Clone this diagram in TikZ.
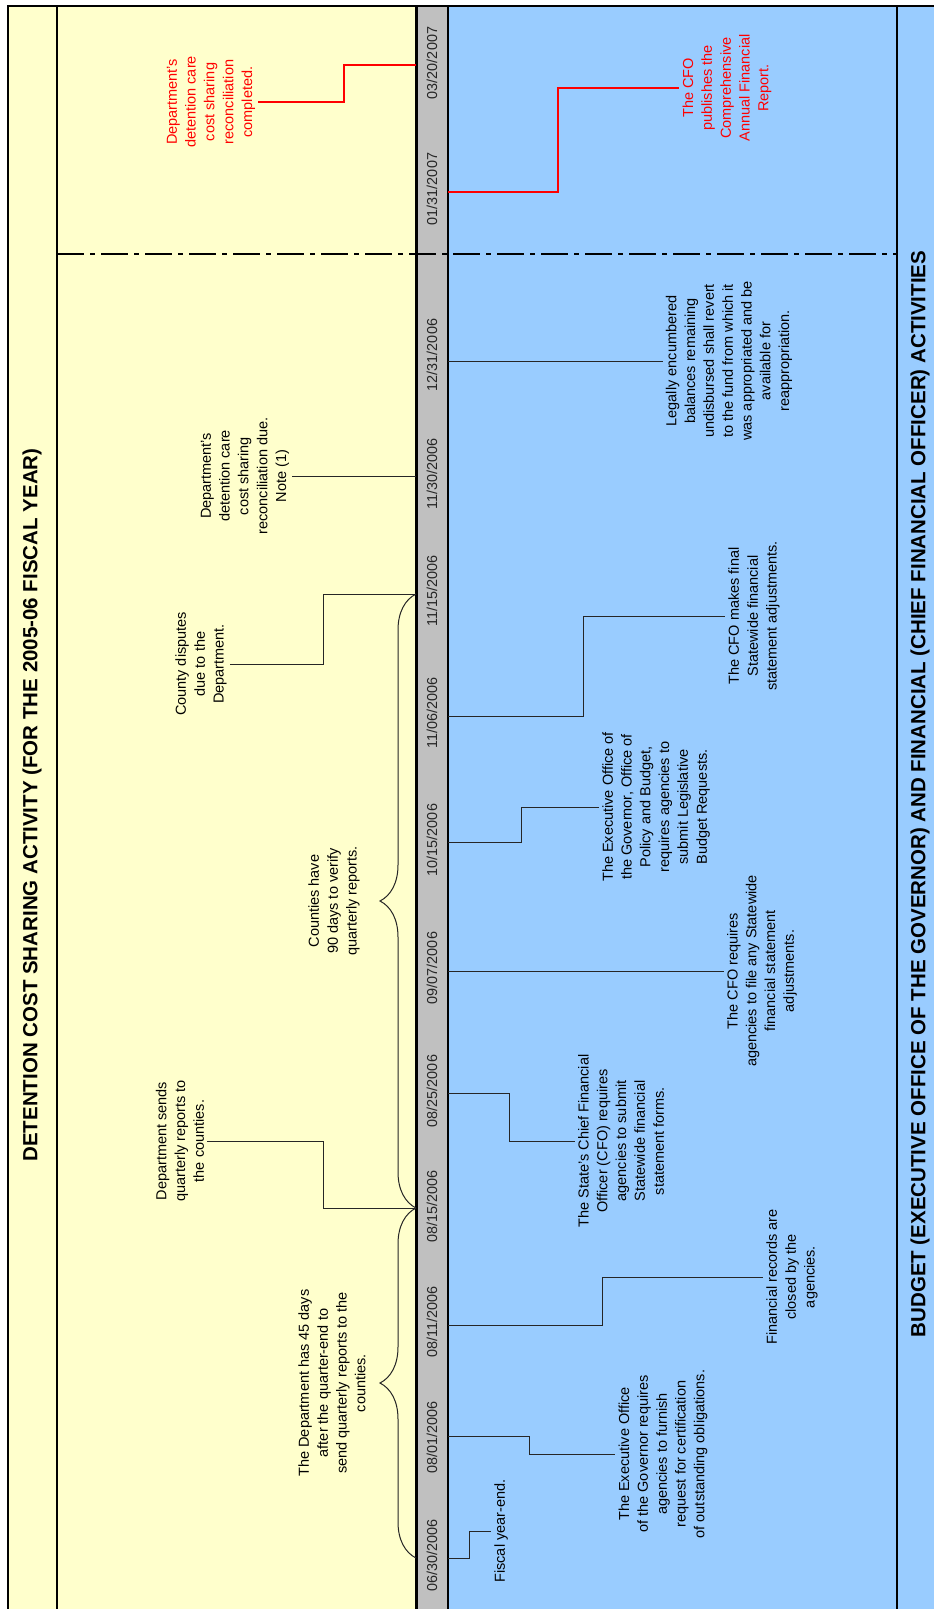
\documentclass[tikz,border=0pt]{standalone}
\usepackage{fontspec}
\setmainfont{Liberation Sans}
\usetikzlibrary{decorations.pathreplacing}
\definecolor{ylw}{HTML}{FFFFCC}
\definecolor{blu}{HTML}{99CCFF}
\definecolor{gry}{HTML}{C0C0C0}
\definecolor{rd}{HTML}{FF0000}
\begin{document}
\begin{tikzpicture}[x=1pt,y=-1pt,
  evt/.style={rotate=90, align=center, font=\fontsize{14.5}{18.8}\selectfont, inner sep=3pt},
  datelbl/.style={rotate=90, font=\fontsize{14.4}{17}\selectfont, text=black!85, inner sep=0pt},
  ttl/.style={rotate=90, font=\bfseries\fontsize{20.5}{24}\selectfont, inner sep=0pt},
  conn/.style={line width=1pt, draw=black!85},
  rconn/.style={line width=1.2pt, draw=rd},
  frame/.style={line width=2.5pt, draw=black},
  bracestyle/.style={line width=1pt, draw=black!85, decorate, decoration={brace, amplitude=36pt}}]
\useasboundingbox (0,0) rectangle (934,1609);
\fill[white] (0,0) rectangle (934,1609);
\fill[ylw] (8,6) rectangle (416,1609);
\fill[gry] (416,6) rectangle (448,1609);
\fill[blu] (448,6) rectangle (934,1609);
% dash-dot separator
\draw[line width=2pt, dash pattern=on 27pt off 6pt on 5pt off 6pt] (57,254) -- (897,254);
% frame lines
\draw[frame] (8,1609) -- (8,6) -- (934,6);
\draw[frame] (57,6) -- (57,1609);
\draw[line width=3pt] (416,6) -- (416,1609);
\draw[line width=2pt] (448,6) -- (448,1609);
\draw[line width=2pt] (897,6) -- (897,1609);
% titles
\node[ttl] (t1) at (32,805) {DETENTION COST SHARING ACTIVITY (FOR THE 2005-06 FISCAL YEAR)};
\node[ttl] (t2) at (920,794) {BUDGET (EXECUTIVE OFFICE OF THE GOVERNOR) AND FINANCIAL (CHIEF FINANCIAL OFFICER) ACTIVITIES};
% date labels
\node[datelbl] (l0630) at (432,1555) {06/30/2006};
\node[datelbl] (l0801) at (432,1437) {08/01/2006};
\node[datelbl] (l0811) at (432,1322) {08/11/2006};
\node[datelbl] (l0815) at (432,1206) {08/15/2006};
\node[datelbl] (l0825) at (432,1091) {08/25/2006};
\node[datelbl] (l0907) at (432,968) {09/07/2006};
\node[datelbl] (l1015) at (432,840) {10/15/2006};
\node[datelbl] (l1106) at (432,713) {11/06/2006};
\node[datelbl] (l1115) at (432,591) {11/15/2006};
\node[datelbl] (l1130) at (432,474) {11/30/2006};
\node[datelbl] (l1231) at (432,355) {12/31/2006};
\node[datelbl] (l0131) at (432,189) {01/31/2007};
\node[datelbl] (l0320) at (432,63) {03/20/2007};
% tick coordinates
\coordinate (y0320) at (416,65);
\coordinate (y1130) at (416,476);
\coordinate (y1115) at (416,594);
\coordinate (y0815) at (416,1208);
\coordinate (y0630) at (416,1558);
\coordinate (b0630) at (448,1558);
\coordinate (b0801) at (448,1436);
\coordinate (b0811) at (448,1325);
\coordinate (b0825) at (448,1093);
\coordinate (b0907) at (448,971);
\coordinate (b1015) at (448,842);
\coordinate (b1106) at (448,716);
\coordinate (b1231) at (448,361);
\coordinate (b0131) at (448,192);
% yellow events
\node[evt,text=rd] (Y1) at (211,102) {Department's\\detention care\\cost sharing\\reconciliation\\completed.};
\node[evt] (Y2) at (245,476) {Department's\\detention care\\cost sharing\\reconciliation due.\\Note (1)};
\node[evt] (Y3) at (201,664) {County disputes\\due to the\\Department.};
\node[evt] (Y4) at (334,901) {Counties have\\90 days to verify\\quarterly reports.};
\node[evt] (Y5) at (180,1141) {Department sends\\quarterly reports to\\the counties.};
\node[evt] (Y6) at (332,1383) {The Department has 45 days\\after the quarter-end to\\send quarterly reports to the\\counties.};
% blue events
\node[evt] (B1) at (501,1531) {Fiscal year-end.};
\node[evt] (B2) at (663,1454) {The Executive Office\\of the Governor requires\\agencies to furnish\\request for certification\\of outstanding obligations.};
\node[evt] (B3) at (792,1277) {Financial records are\\closed by the\\agencies.};
\node[evt] (B4) at (621,1141) {The State's Chief Financial\\Officer (CFO) requires\\agencies to submit\\Statewide financial\\statement forms.};
\node[evt] (B5) at (762,971) {The CFO requires\\agencies to file any Statewide\\financial statement\\adjustments.};
\node[evt] (B6) at (656,807) {The Executive Office of\\the Governor, Office of\\Policy and Budget,\\requires agencies to\\submit Legislative\\Budget Requests.};
\node[evt] (B7) at (754,616) {The CFO makes final\\Statewide financial\\statement adjustments.};
\node[evt] (B8) at (729,361) {Legally encumbered\\balances remaining\\undisbursed shall revert\\to the fund from which it\\was appropriated and be\\available for\\reappropriation.};
\node[evt,text=rd] (B9) at (727,88) {The CFO\\publishes the\\Comprehensive\\Annual Financial\\Report.};
% yellow connectors
\draw[rconn] (y0320) -- ++(-72,0) |- (Y1.south);
\draw[conn] (y1130) -- (Y2.south);
\draw[conn] (y1115) -- ++(-93,0) |- (Y3.south);
\draw[conn] (y0815) -- ++(-93,0) |- (Y5.south);
\draw[bracestyle] (y0630) -- (y0815);
\draw[bracestyle] (y0815) -- (y1115);
% blue connectors
\draw[conn] (b0630) -- ++(21,0) |- (B1.north);
\draw[conn] (b0801) -- ++(81,0) |- (B2.north);
\draw[conn] (b0811) -- ++(154,0) |- (B3.north);
\draw[conn] (b0825) -- ++(61,0) |- (B4.north);
\draw[conn] (b0907) -- (B5.north);
\draw[conn] (b1015) -- ++(73,0) |- (B6.north);
\draw[conn] (b1106) -- ++(135,0) |- (B7.north);
\draw[conn] (b1231) -- (B8.north);
\draw[rconn] (b0131) -- ++(110,0) |- (B9.north);
\end{tikzpicture}
\end{document}
